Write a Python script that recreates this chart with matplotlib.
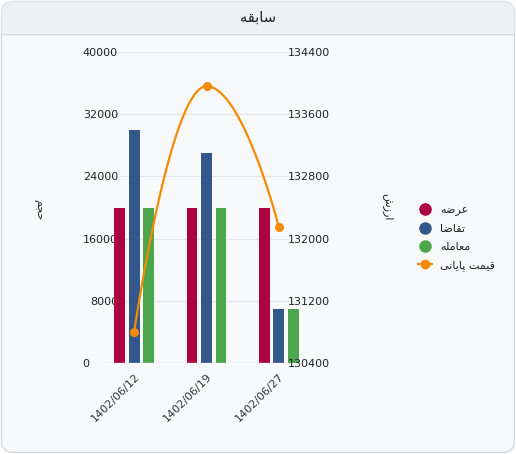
import numpy as np
import matplotlib
matplotlib.use('Agg')
import matplotlib.pyplot as plt
from matplotlib.patches import FancyBboxPatch, Rectangle
from matplotlib.lines import Line2D
from matplotlib.transforms import ScaledTranslation

plt.rcParams['font.family'] = ['DejaVu Sans']

W, H, DPI = 516, 454, 100

# Persian labels written in shaped presentation forms (visual order)
TITLE = '\uFEEA\uFED8\uFE91\uFE8E\uFEB3'                  # سابقه
LEFT_TITLE = '\uFEE2\uFEA0\uFEA3'                          # حجم
RIGHT_TITLE = '\uFEB5\uFEAF\uFEAD\uFE8D'                   # ارزش
SERIES_NAMES = ['\uFEEA\uFEBF\uFEAE\uFECB',                # عرضه
                '\uFE8E\uFEBF\uFE8E\uFED8\uFE97',          # تقاضا
                '\uFEEA\uFEE0\uFEE3\uFE8E\uFECC\uFEE3']    # معامله
LINE_NAME = '\uFBFD\uFEE7\uFE8E\uFBFE\uFE8E\uFB58 \uFE96\uFEE4\uFBFF\uFED7'  # قیمت پایانی

dates = ['1402/06/12', '1402/06/19', '1402/06/27']
supply = [20000, 20000, 20000]
demand = [30000, 27000, 7000]
deals = [20000, 20000, 7000]
close_price = [130800, 133960, 132150]

left_ticks = [0, 8000, 16000, 24000, 32000, 40000]
right_ticks = [130400, 131200, 132000, 132800, 133600, 134400]

COLORS = ['#ad0040', '#33568b', '#4ca64c']
ORANGE = '#f58a07'


def px(x, y):
    return x / W, 1 - y / H


def spline(xs, ys, n=60, smooth=1.5):
    # highcharts-like spline: flat tangent at extremes
    xs = np.asarray(xs, float)
    ys = np.asarray(ys, float)
    d = smooth + 1
    ctrl = []
    for i in range(len(xs)):
        if i == 0 or i == len(xs) - 1:
            ctrl.append(((xs[i], ys[i]), (xs[i], ys[i])))
            continue
        lx = (smooth * xs[i] + xs[i - 1]) / d
        ly = (smooth * ys[i] + ys[i - 1]) / d
        rx = (smooth * xs[i] + xs[i + 1]) / d
        ry = (smooth * ys[i] + ys[i + 1]) / d
        if (ys[i] - ys[i - 1]) * (ys[i] - ys[i + 1]) > 0:
            ly = ry = ys[i]
        else:
            k = (ry - ly) / (rx - lx)
            ly = ys[i] + k * (lx - xs[i])
            ry = ys[i] + k * (rx - xs[i])
        ctrl.append(((lx, ly), (rx, ry)))
    out_x, out_y = [], []
    t = np.linspace(0, 1, n)
    for i in range(len(xs) - 1):
        p0 = np.array([xs[i], ys[i]])
        p1 = np.array(ctrl[i][1])
        p2 = np.array(ctrl[i + 1][0])
        p3 = np.array([xs[i + 1], ys[i + 1]])
        b = ((1 - t) ** 3)[:, None] * p0 + (3 * (1 - t) ** 2 * t)[:, None] * p1 \
            + (3 * (1 - t) * t ** 2)[:, None] * p2 + (t ** 3)[:, None] * p3
        out_x.extend(b[:, 0])
        out_y.extend(b[:, 1])
    return out_x, out_y


fig = plt.figure(figsize=(W / DPI, H / DPI), dpi=DPI)
fig.patch.set_facecolor('white')

# card
card = FancyBboxPatch(px(1.5, 452.5), (W - 3) / W, (H - 3) / H,
                      boxstyle='round,pad=0,rounding_size=0.025',
                      transform=fig.transFigure, facecolor='#f8f9fb',
                      edgecolor='#d3d6db', linewidth=1.0, zorder=-3)
fig.patches.append(card)
header = Rectangle(px(0, 33), 1, 33 / H, transform=fig.transFigure,
                   facecolor='#eff0f3', edgecolor='none', zorder=-2)
header.set_clip_path(card)
fig.patches.append(header)
fig.add_artist(Line2D([2 / W, 1 - 2 / W], [1 - 33.5 / H] * 2, color='#d5d8dc',
                      linewidth=1.0, transform=fig.transFigure, zorder=-1))
fig.text(0.5, 1 - 17 / H, TITLE, ha='center', va='center', fontsize=10.5, color='#222222')

x0, x1, y0, y1 = 98, 315, 52, 363
ax = fig.add_axes([x0 / W, 1 - y1 / H, (x1 - x0) / W, (y1 - y0) / H])
ax.patch.set_alpha(0)
ax2 = ax.twinx()

x = np.arange(len(dates))
width = 0.15
for k, (vals, c) in enumerate(zip([supply, demand, deals], COLORS)):
    ax.bar(x + (k - 1) * 0.2, vals, width, color=c, zorder=2)

ax.set_xlim(-0.5, len(dates) - 0.5)
ax.set_ylim(left_ticks[0], left_ticks[-1])
ax.set_yticks(left_ticks)
ax2.set_ylim(right_ticks[0], right_ticks[-1])
ax2.set_yticks(right_ticks)

grid_end = (288 - x0) / (x1 - x0)
for t in left_ticks[1:]:
    ax.axhline(t, xmin=0, xmax=grid_end, color='#e3e5e8', linewidth=0.8, zorder=1)
ax.axhline(0, xmin=0, xmax=grid_end, color='#ccd6eb', linewidth=1.0, zorder=3)

sx, sy = spline(x, close_price, smooth=1.0)
ax2.plot(sx, sy, color=ORANGE, linewidth=1.6, zorder=4)
ax2.plot(x, close_price, 'o', color=ORANGE, markersize=5.5, zorder=5)

for a in (ax, ax2):
    for s in a.spines.values():
        s.set_visible(False)

ax.set_xticks(x)
ax.set_xticklabels(dates, rotation=45, ha='right', rotation_mode='anchor',
                   fontsize=8, color='#333333')
ax.tick_params(axis='x', length=0, pad=6)
ax.tick_params(axis='y', length=0, pad=-20 * 72 / DPI, labelsize=8, labelcolor='#222222')
ax2.tick_params(axis='y', length=0, pad=-27 * 72 / DPI, labelsize=8, labelcolor='#222222')
zero_lab = ax.get_yticklabels()[0]
zero_lab.set_transform(zero_lab.get_transform() + ScaledTranslation(-29 / DPI, 0, fig.dpi_scale_trans))
ax2.patch.set_alpha(0)

fig.text(37 / W, 1 - 210 / H, LEFT_TITLE, rotation=270, ha='center', va='center',
         fontsize=8, color='#222222')
fig.text(388 / W, 1 - 207 / H, RIGHT_TITLE, rotation=270, ha='center', va='center',
         fontsize=8, color='#222222')

handles = [Line2D([], [], marker='o', linestyle='none', color=c, markersize=8) for c in COLORS]
handles.append(Line2D([], [], marker='o', color=ORANGE, markersize=6, linewidth=1.6))
fig.legend(handles, SERIES_NAMES + [LINE_NAME], loc='upper left',
           bbox_to_anchor=(418 / W, 1 - 205 / H), frameon=False, fontsize=8,
           handlelength=1.3, handletextpad=0.7, labelspacing=0.72,
           borderpad=0, borderaxespad=0, labelcolor='#222222')

fig.savefig('out.png', dpi=DPI, facecolor='white')
